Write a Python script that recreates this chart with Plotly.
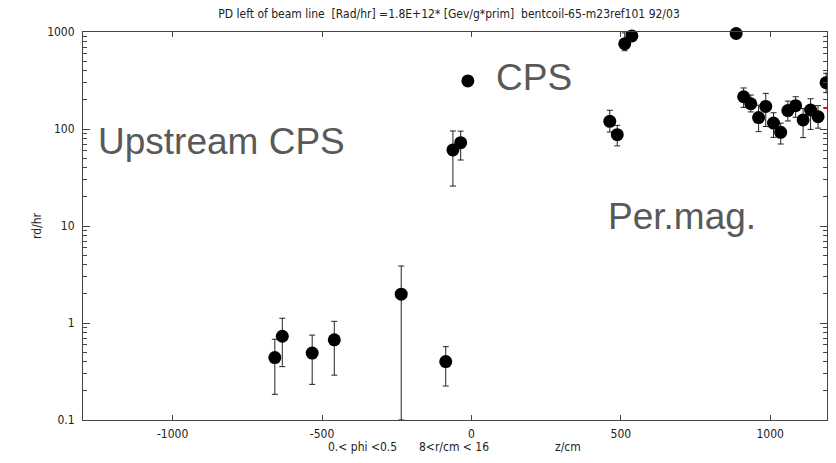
import numpy as np
import plotly.graph_objects as go

# ---- data ----
z_cm = [-658, -633, -533, -459, -235, -86, -62, -36, -12,
        513, 537, 886, 463, 488,
        911, 935, 961, 985, 1011, 1035, 1059, 1085, 1110, 1135, 1160, 1187, 1196]
rd_hr = [0.44, 0.73, 0.49, 0.67, 1.98, 0.40, 60.8, 72.2, 313,
         757, 910, 965, 120, 87.4,
         215, 182, 131, 171, 115, 92.5, 155, 174, 124, 157, 134, 300, 300]
err_hi = [0.68, 1.12, 0.75, 1.04, 3.87, 0.57, 95.4, 95.0, 330,
          980, 960, 1000, 156, 109,
          265, 224, 176, 233, 147, 115, 194, 215, 163, 205, 174, 375, 375]
err_lo = [0.184, 0.355, 0.233, 0.29, 0.1, 0.224, 25.8, 47.9, 296,
          641, 850, 920, 93, 67,
          167, 150, 94, 106, 82, 70, 121, 132, 81.5, 99, 102, 237, 237]

x_ticks = [-1000, -500, 0, 500, 1000]
x_ticklabels = ["-1000", "-500", "0", "500", "1000"]

title_text = "PD left of beam line  [Rad/hr] =1.8E+12* [Gev/g*prim]  bentcoil-65-m23ref101 92/03"
region_labels = ["Upstream CPS", "CPS", "Per.mag."]
region_x = [-835, 210, 706]
region_logy = [1.87, 2.53, 1.10]
xlabel_parts = ["0.< phi <0.5", "8<r/cm < 16", "z/cm"]

y = np.array(rd_hr)
plus = np.array(err_hi) - y
minus = y - np.array(err_lo)

FONT = "DejaVu Sans Condensed, Liberation Sans Narrow, DejaVu Sans, sans-serif"
AXC = "#444444"
TXC = "#222222"

fig = go.Figure()
fig.add_trace(go.Scatter(
    x=z_cm, y=rd_hr, mode="markers",
    marker=dict(symbol="circle", size=13, color="black"),
    error_y=dict(type="data", symmetric=False, array=plus, arrayminus=minus,
                 color="#222222", thickness=1, width=3),
    cliponaxis=False, showlegend=False,
))

# page has an 8px body margin; visible area ends at the body's right edge
OFF = 8
W, H = 820, 447
L, R, T, B = 75, 1, 24, 35
pw = W - L - R
ph = H - T - B


def px_x(px):
    return (px - OFF - L) / pw


def px_y(py):
    return (H - B - (py - OFF)) / ph


annotations = []
for txt, xv, yv in zip(region_labels, region_x, region_logy):
    annotations.append(dict(x=xv, y=yv, xref="x", yref="y", text=txt, showarrow=False,
                            font=dict(family="Liberation Sans, Arial, sans-serif", size=37,
                                      color="#595959"),
                            xanchor="center", yanchor="middle"))
for txt, px in zip(xlabel_parts, [362, 454, 568]):
    annotations.append(dict(x=px_x(px), y=px_y(447), xref="paper", yref="paper",
                            text=txt, showarrow=False,
                            font=dict(family=FONT, size=12, color=TXC),
                            xanchor="center", yanchor="middle"))
annotations.append(dict(x=px_x(37), y=px_y(226), xref="paper", yref="paper",
                        text="rd/hr", showarrow=False, textangle=-90,
                        font=dict(family=FONT, size=12, color=TXC),
                        xanchor="center", yanchor="middle"))

fig.update_layout(
    width=W, height=H,
    margin=dict(l=L, r=R, t=T, b=B, pad=0, autoexpand=False),
    paper_bgcolor="white", plot_bgcolor="white",
    title=dict(text=title_text, x=(449 - OFF) / W, xanchor="center", xref="container",
               y=1.0 - 2 / H, yanchor="top", yref="container", pad=dict(t=0, b=0),
               font=dict(family=FONT, size=12, color=TXC)),
    xaxis=dict(range=[-1300, 1190], tickvals=x_ticks, ticktext=x_ticklabels,
               ticks="inside", ticklen=5, automargin=False,
               tickcolor=AXC, showline=True, linecolor=AXC, linewidth=1, mirror="ticks",
               showgrid=False, zeroline=False, ticklabelstandoff=3,
               tickfont=dict(family=FONT, size=12, color=TXC)),
    yaxis=dict(type="log", range=[-1, 3], tickmode="linear", tick0=0, dtick=1,
               exponentformat="none", separatethousands=False,
               ticks="inside", ticklen=7, tickcolor=AXC, showline=True, linecolor=AXC,
               linewidth=1, mirror="ticks", showgrid=False, zeroline=False,
               ticklabelstandoff=5, automargin=False,
               minor=dict(ticks="inside", ticklen=4, tickcolor=AXC, dtick="D1", showgrid=False),
               tickfont=dict(family=FONT, size=12, color=TXC)),
    annotations=annotations,
    shapes=[dict(type="line", xref="paper", yref="paper", x0=0.995, x1=1.0,
                 y0=px_y(108), y1=px_y(108),
                 line=dict(color="red", width=2))],
)

fig.write_html("out.html")
